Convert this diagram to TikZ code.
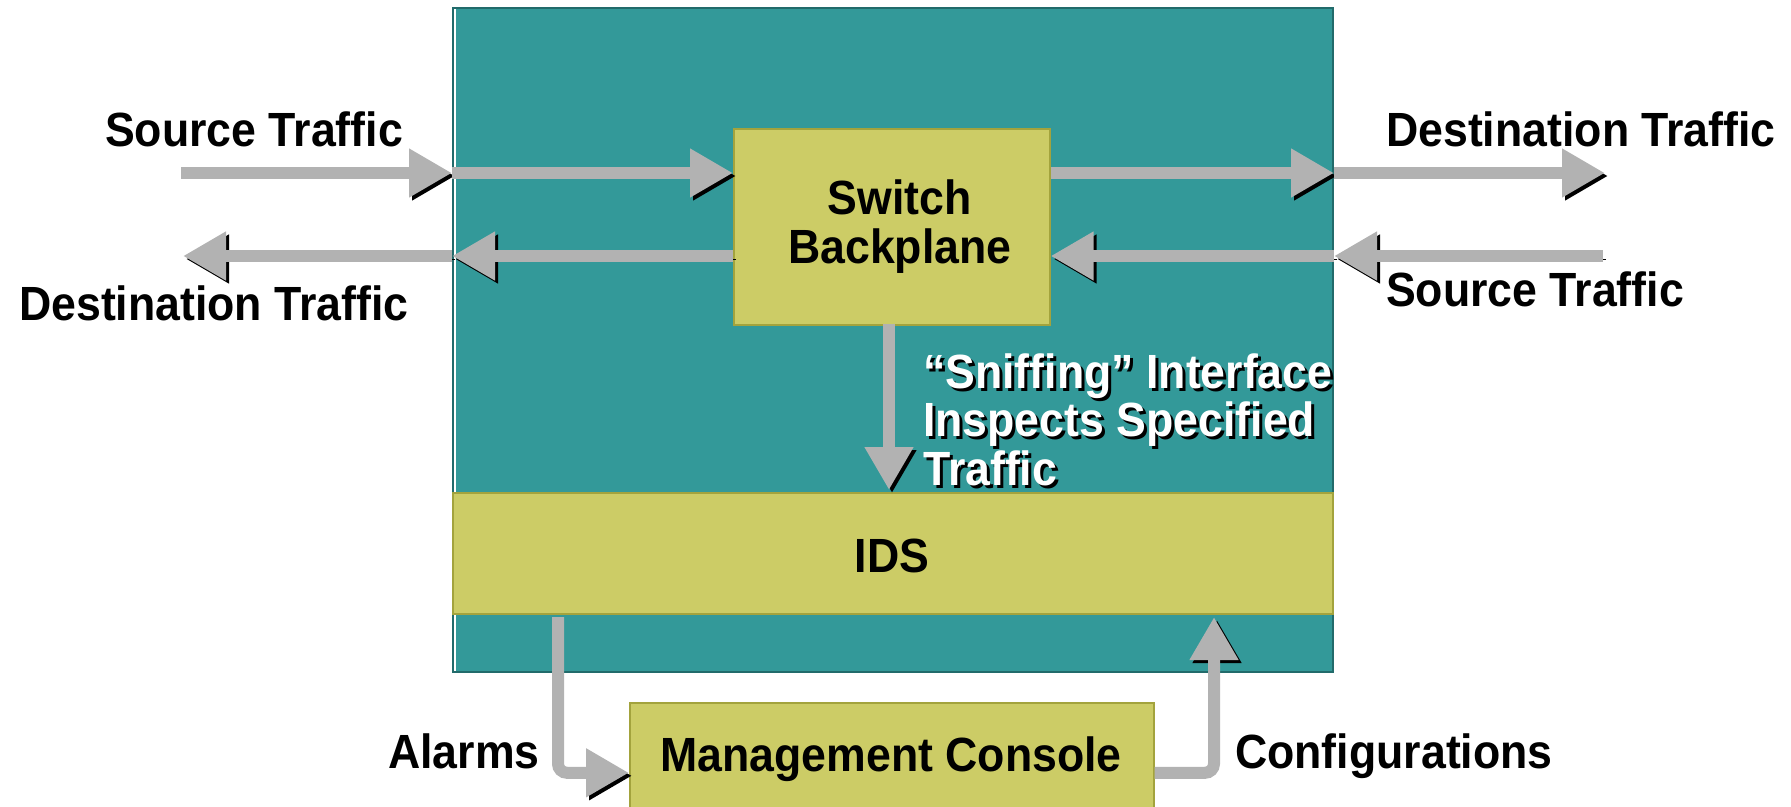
\documentclass[tikz,border=0pt]{standalone}
\usepackage{fontspec}
\setmainfont{Liberation Sans}[Ligatures=NoCommon, FakeStretch=0.93]
\usetikzlibrary{arrows.meta}
\definecolor{tealfill}{HTML}{339999}
\definecolor{tealedge}{HTML}{226B6B}
\definecolor{olivefill}{HTML}{CCCC66}
\definecolor{oliveedge}{HTML}{A3A33D}
\definecolor{arrowgray}{HTML}{B2B2B2}
\begin{document}
\begin{tikzpicture}[x=1pt,y=-1pt,
  lbl/.style={font=\fontsize{48}{48.5}\selectfont\bfseries, inner sep=0pt},
  tealbox/.style={draw=tealedge, fill=tealfill, line width=2pt, inner sep=0pt, anchor=north west},
  ybox/.style={draw=oliveedge, fill=olivefill, line width=1.6pt, inner sep=0pt, anchor=north west},
  garrow/.style={draw=arrowgray, line width=12pt,
    -{Triangle[width=46pt,length=43pt]},
    preaction={draw=black, transform canvas={shift={(3,3)}}}},
  bentarrow/.style={garrow, rounded corners=9pt}]
\clip (0,0) rectangle (1791,806);

% switch chassis, backplane and IDS module
\node[tealbox, minimum width=880pt, minimum height=664pt] (teal) at (452,7) {};
\draw[white, line width=1.2pt] ([xshift=3pt,yshift=-2pt]teal.north west) -- ([xshift=3pt,yshift=2pt]teal.south west);
\node[ybox, minimum width=316pt, minimum height=196pt] (sw) at (733,128) {};
\node[lbl] at ([xshift=8pt]sw.center) [align=center] {Switch\\Backplane};
\node[ybox, minimum width=880pt, minimum height=121pt] (ids) at (452,492) {};
\node[lbl, anchor=base] (idstext) at (892,572) {IDS};
\node[ybox, minimum width=524pt, minimum height=140pt] (mc) at (629,702) {};
\node[lbl, anchor=base] (mctext) at (891,771) {Management Console};

% traffic flows
\coordinate (srcL) at (181,173);
\coordinate (dstR) at (1605,173);
\coordinate (srcR) at (1603,256);
\coordinate (dstL) at (183,256);
\draw[garrow] (srcL) -- (teal.west |- srcL);
\draw[garrow] (teal.west |- srcL) -- (sw.west |- srcL);
\draw[garrow] (sw.east |- srcL) -- (teal.east |- srcL);
\draw[garrow] (teal.east |- dstR) -- (dstR);
\draw[garrow] (srcR) -- (teal.east |- srcR);
\draw[garrow] (teal.east |- srcR) -- (sw.east |- srcR);
\draw[garrow] (sw.west |- dstL) -- (teal.west |- dstL);
\draw[garrow] (teal.west |- dstL) -- (dstL);

% sniffing interface
\coordinate (sniffTop) at (889,324);
\coordinate (sniffTip) at (889,490);
\draw[garrow] (sniffTop) -- (sniffTip);

% alarms and configurations
\coordinate (alarmTop) at (558,617);
\coordinate (cfgTop) at (1214,617);
\draw[bentarrow] (alarmTop) |- (mc.west);
\draw[bentarrow] (mc.east) -| (cfgTop);

% labels
\node[lbl, anchor=base west] (lblSrcL) at (105,146) {Source Traffic};
\node[lbl, anchor=base west] (lblDstR) at (1386,146) {Destination Traffic};
\node[lbl, anchor=base west] (lblDstL) at (19,320) {Destination Traffic};
\node[lbl, anchor=base west] (lblSrcR) at (1386,306) {Source Traffic};
\node[lbl, anchor=base west] (lblAlarm) at (388,768) {Alarms};
\node[lbl, anchor=base west] (lblCfg) at (1235,768) {Configurations};
\node[lbl, text=black, anchor=base west, align=left] (sniffShade) at (926,488)
  {“Sniffing” Interface\\Inspects Specified\\Traffic};
\node[lbl, text=white, anchor=base west, align=left] (sniff) at (923,485)
  {“Sniffing” Interface\\Inspects Specified\\Traffic};
\end{tikzpicture}
\end{document}
